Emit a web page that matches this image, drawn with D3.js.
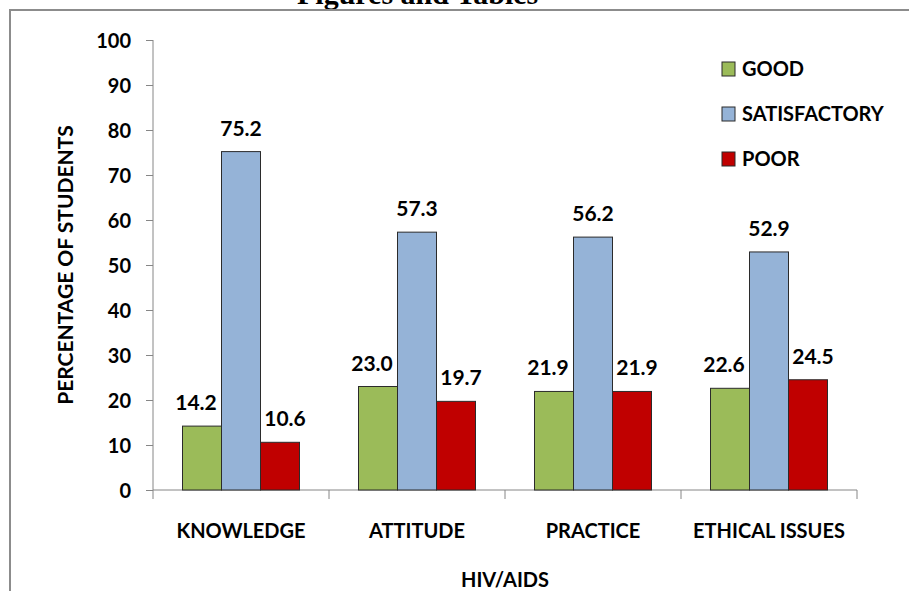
<!DOCTYPE html>
<html>
<head>
<meta charset="utf-8">
<script src="https://cdn.jsdelivr.net/npm/d3@7"></script>
<style>
  body { margin: 0; background: #fff; }
  text { font-family: Lato, "Open Sans", sans-serif; font-weight: bold; fill: #000; }
</style>
</head>
<body>
<div id="chart"></div>
<script>
const categories = ["KNOWLEDGE", "ATTITUDE", "PRACTICE", "ETHICAL ISSUES"]
const series = ["GOOD", "SATISFACTORY", "POOR"]
const good = [14.2, 23.0, 21.9, 22.6]
const satisfactory = [75.2, 57.3, 56.2, 52.9]
const poor = [10.6, 19.7, 21.9, 24.5]
const yTicks = [0, 10, 20, 30, 40, 50, 60, 70, 80, 90, 100]

const COLORS = ["#9BBB59", "#95B3D7", "#C00000"]
const W = 909, H = 591
const PLOT = { LEFT: 153, RIGHT: 857, TOP: 40, BOTTOM: 490 }

const values = [good, satisfactory, poor]
const rows = categories.map((c, i) => ({
    cat: c,
    vals: series.map((s, j) => ({ key: s, v: values[j][i], j }))
}))

const svg = d3.select("#chart").append("svg")
    .attr("width", W)
    .attr("height", H)

// page heading (cut off at top) and frame
svg.append("text")
    .attr("x", 297)
    .attr("y", 4)
    .style("font-family", "'Liberation Serif', 'DejaVu Serif', serif")
    .style("font-size", "30px")
    .text("Figures and Tables")

svg.append("path")
    .attr("d", `M10,${H + 5} L10,10 L${W + 5},10`)
    .attr("fill", "none")
    .attr("stroke", "#8c8c8c")
    .attr("stroke-width", 2)

const x = d3.scaleBand()
    .domain(categories)
    .range([PLOT.LEFT, PLOT.RIGHT])

const inner = d3.scaleBand()
    .domain(series)
    .range([0, 117])
    .paddingInner(0)

const y = d3.scaleLinear()
    .domain([0, 100])
    .range([PLOT.BOTTOM, PLOT.TOP])

// y axis
const yAxis = svg.append("g")
    .attr("transform", `translate(${PLOT.LEFT},0)`)
    .call(d3.axisLeft(y).tickValues(yTicks).tickSize(7).tickPadding(15))
yAxis.select(".domain").attr("stroke", "#868686").attr("d", `M0,${y(100)}V${y(0)}`)
yAxis.selectAll(".tick line").attr("stroke", "#868686")
yAxis.selectAll(".tick text").style("font-size", "20px").attr("dy", "0.36em")

// x axis
const xAxis = svg.append("g")
    .attr("transform", `translate(0,${PLOT.BOTTOM})`)
xAxis.append("line")
    .attr("x1", PLOT.LEFT).attr("x2", PLOT.RIGHT)
    .attr("stroke", "#868686")
xAxis.selectAll(".sep")
    .data(categories.map(c => x(c)).concat([PLOT.RIGHT]))
    .enter().append("line")
    .attr("x1", d => d).attr("x2", d => d)
    .attr("y1", 0).attr("y2", 9)
    .attr("stroke", "#868686")
xAxis.selectAll(".cat")
    .data(categories)
    .enter().append("text")
    .attr("x", d => x(d) + x.bandwidth() / 2)
    .attr("y", 48)
    .attr("text-anchor", "middle")
    .style("font-size", "20px")
    .text(d => d)

// bars
const groups = svg.selectAll(".grp")
    .data(rows)
    .enter().append("g")
    .attr("transform", d => `translate(${x(d.cat) + (x.bandwidth() - 117) / 2},0)`)

groups.selectAll("rect")
    .data(d => d.vals)
    .enter().append("rect")
    .attr("x", d => inner(d.key))
    .attr("y", d => y(d.v))
    .attr("width", inner.bandwidth())
    .attr("height", d => y(0) - y(d.v))
    .attr("fill", d => COLORS[d.j])
    .attr("stroke", "#2b2b2b")
    .attr("stroke-width", 1)

const LABEL_SHIFT = [-6, 0, 5]
groups.selectAll(".lbl")
    .data(d => d.vals)
    .enter().append("text")
    .attr("x", d => inner(d.key) + inner.bandwidth() / 2 + LABEL_SHIFT[d.j])
    .attr("y", d => y(d.v) - 16)
    .attr("text-anchor", "middle")
    .style("font-size", "21px")
    .text(d => d.v.toFixed(1))

// axis titles
svg.append("text")
    .attr("transform", `translate(73,${(PLOT.TOP + PLOT.BOTTOM) / 2}) rotate(-90)`)
    .attr("text-anchor", "middle")
    .style("font-size", "21px")
    .text("PERCENTAGE OF STUDENTS")

svg.append("text")
    .attr("x", (PLOT.LEFT + PLOT.RIGHT) / 2)
    .attr("y", 587)
    .attr("text-anchor", "middle")
    .style("font-size", "20px")
    .text("HIV/AIDS")

// legend
const legend = svg.selectAll(".leg")
    .data(series)
    .enter().append("g")
    .attr("transform", (d, i) => `translate(722,${62 + i * 45})`)
legend.append("rect")
    .attr("width", 13).attr("height", 14)
    .attr("fill", (d, i) => COLORS[i])
    .attr("stroke", "#2b2b2b")
legend.append("text")
    .attr("x", 20)
    .attr("y", 14)
    .style("font-size", "20px")
    .text(d => d)
</script>
</body>
</html>
